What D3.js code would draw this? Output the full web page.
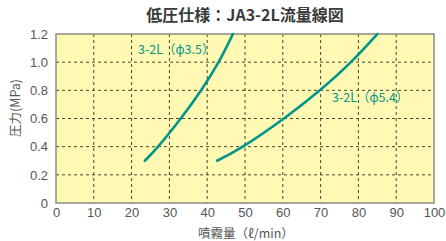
<!DOCTYPE html>
<html>
<head>
<meta charset="utf-8">
<script src="https://cdn.jsdelivr.net/npm/d3@7"></script>
<style>
  body { margin: 0; background: #fff; }
  text { font-family: "Noto Sans CJK JP", "Noto Sans", sans-serif; }
</style>
</head>
<body>
<svg></svg>
<script>
// flow (l/min) vs pressure (MPa)
const xTicks = [0, 10, 20, 30, 40, 50, 60, 70, 80, 90, 100];
const yTicks = [0, 0.2, 0.4, 0.6, 0.8, 1.0, 1.2];

const pressure = [0.3, 0.4, 0.6, 0.8, 1.0, 1.2];
const flow35 = [23.5, 27.0, 33.0, 38.4, 43.0, 46.8];
const flow54 = [42.6, 49.4, 60.3, 69.8, 78.0, 85.0];

const seriesLabels = ["3-2L（\u03d53.5）", "3-2L（\u03d55.4）"];

const width = 446, height = 241;
const svg = d3.select("svg").attr("width", width).attr("height", height);

const plotLeft = 56, plotRight = 434, plotTop = 34, plotBottom = 203;

const x = d3.scaleLinear().domain([0, 100]).range([plotLeft, plotRight]);
const y = d3.scaleLinear().domain([0, 1.2]).range([plotBottom, plotTop]);

// plot background
svg.append("rect")
  .attr("x", plotLeft).attr("y", plotTop)
  .attr("width", plotRight - plotLeft).attr("height", plotBottom - plotTop)
  .attr("fill", "#fff9b3");

// dashed grid
svg.append("g").selectAll("line")
  .data(xTicks.slice(1, -1))
  .enter().append("line")
  .attr("x1", d => x(d)).attr("x2", d => x(d))
  .attr("y1", plotTop).attr("y2", plotBottom)
  .attr("stroke", "#4a4530").attr("stroke-width", 1)
  .attr("stroke-dasharray", "3,3");

svg.append("g").selectAll("line")
  .data(yTicks.slice(1, -1))
  .enter().append("line")
  .attr("x1", plotLeft).attr("x2", plotRight)
  .attr("y1", d => y(d)).attr("y2", d => y(d))
  .attr("stroke", "#4a4530").attr("stroke-width", 1)
  .attr("stroke-dasharray", "3,3");

// border
svg.append("rect")
  .attr("x", plotLeft).attr("y", plotTop)
  .attr("width", plotRight - plotLeft).attr("height", plotBottom - plotTop)
  .attr("fill", "none").attr("stroke", "#8c8c84").attr("stroke-width", 1.5);

// axes (labels only)
const xAxis = svg.append("g")
  .attr("transform", `translate(0,${plotBottom})`)
  .call(d3.axisBottom(x).tickValues(xTicks).tickSize(0).tickPadding(5).tickFormat(d3.format("d")));
const yAxis = svg.append("g")
  .attr("transform", `translate(${plotLeft},0)`)
  .call(d3.axisLeft(y).tickValues(yTicks).tickSize(0).tickPadding(8)
    .tickFormat(d => d === 0 ? "0" : d3.format(".1f")(d)));
[xAxis, yAxis].forEach(a => {
  a.select(".domain").remove();
  a.selectAll("text").attr("fill", "#555").style("font-size", "13px")
    .style("font-family", "'Liberation Sans', Arial, sans-serif");
});

// curves
const line = d3.line().curve(d3.curveNatural).x(d => x(d[0])).y(d => y(d[1]));
[flow35, flow54].forEach(f => {
  svg.append("path")
    .datum(f.map((v, i) => [v, pressure[i]]))
    .attr("d", line)
    .attr("fill", "none")
    .attr("stroke", "#00968a")
    .attr("stroke-width", 2.6)
    .attr("stroke-linecap", "round");
});

// series labels
svg.append("text").attr("x", 138).attr("y", 54)
  .attr("fill", "#00968a").style("font-size", "12.5px").text(seriesLabels[0]);
svg.append("text").attr("x", 332).attr("y", 102)
  .attr("fill", "#00968a").style("font-size", "12.5px").text(seriesLabels[1]);

// title
svg.append("text")
  .attr("x", 245).attr("y", 21)
  .attr("text-anchor", "middle")
  .attr("fill", "#3a3a3a")
  .style("font-size", "16px").style("font-weight", "bold")
  .text("低圧仕様：JA3-2L流量線図");

// axis titles
svg.append("text")
  .attr("x", 246).attr("y", 238)
  .attr("text-anchor", "middle")
  .attr("fill", "#555").style("font-size", "12.5px")
  .text("噴霧量（ℓ/min）");

svg.append("text")
  .attr("transform", "translate(20,108) rotate(-90)")
  .attr("text-anchor", "middle")
  .attr("fill", "#555").style("font-size", "12.5px")
  .text("圧力(MPa)");
</script>
</body>
</html>
